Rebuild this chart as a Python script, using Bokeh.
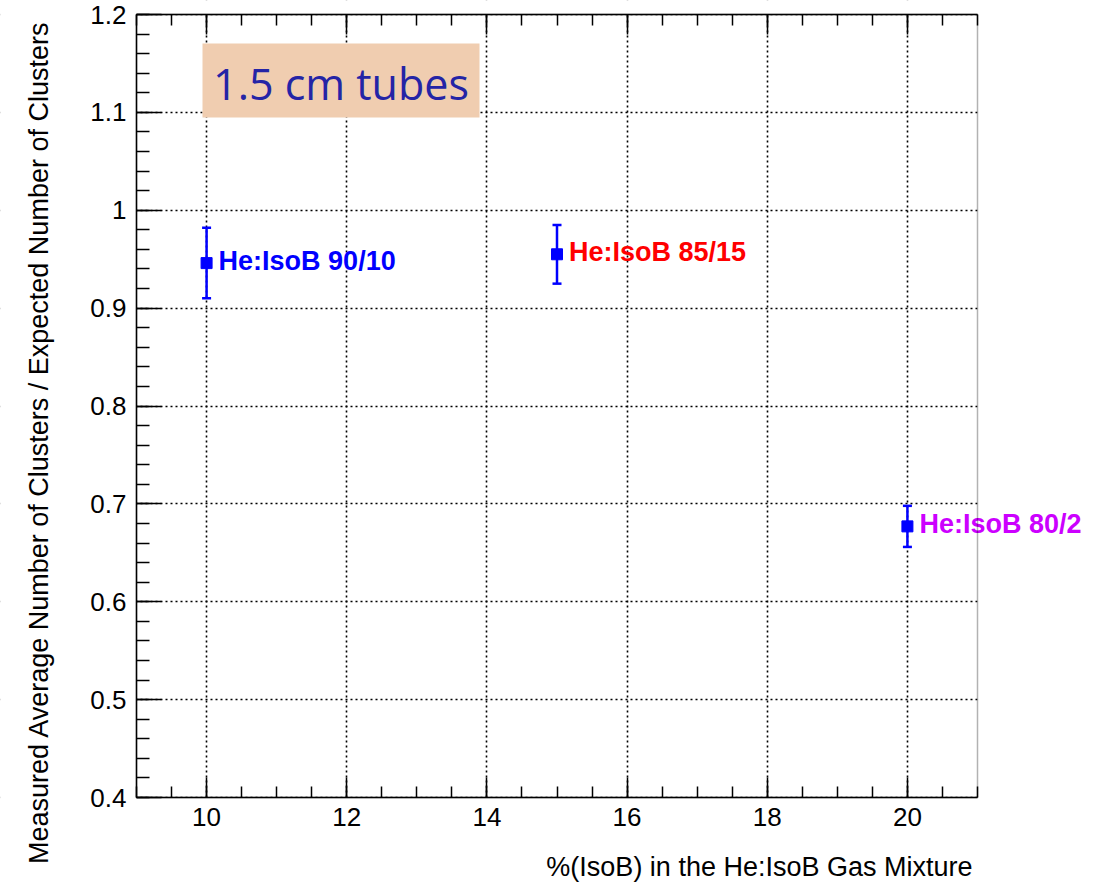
import numpy as np
from bokeh.plotting import figure
from bokeh.models import (ColumnDataSource, Range1d, LinearAxis, SingleIntervalTicker,
                          CustomJSTickFormatter, Whisker, TeeHead, Label, BoxAnnotation)
from bokeh.core.properties import value
from bokeh.embed import file_html
from bokeh.resources import INLINE

# ---- data ----
isob_pct = [10, 15, 20]
ratio = [0.946, 0.955, 0.677]
ratio_err = [0.036, 0.030, 0.021]
point_labels = ["He:IsoB 90/10", "He:IsoB 85/15", "He:IsoB 80/2"]
label_colors = ["#0000ff", "#ff0000", "#cc00ff"]

x_title = "%(IsoB) in the He:IsoB Gas Mixture"
y_title = "Measured Average Number of Clusters / Expected Number of Clusters"
box_title = "1.5 cm tubes"

X_MIN, X_MAX = 9, 21
Y_MIN, Y_MAX = 0.4, 1.2
EPS = 1e-6

src = ColumnDataSource(dict(
    x=isob_pct, y=ratio,
    upper=[v + e for v, e in zip(ratio, ratio_err)],
    lower=[v - e for v, e in zip(ratio, ratio_err)],
    label=point_labels, color=label_colors,
))

# ---- layout: the frame fills the canvas; the visible box is drawn inside it ----
W, H = 1111, 882
BOX_L, BOX_R, BOX_T, BOX_B = 136, 977, 14, 797      # pixel edges of the visible plot box
px_x = (BOX_R - BOX_L) / (X_MAX - X_MIN)
px_y = (BOX_B - BOX_T) / (Y_MAX - Y_MIN)
x0 = X_MIN - BOX_L / px_x
x1 = X_MAX + (W - BOX_R) / px_x
y0 = Y_MIN - (H - BOX_B) / px_y
y1 = Y_MAX + BOX_T / px_y

def sx(px):
    return X_MIN + (px - BOX_L) / px_x

def sy(py):
    return Y_MAX - (py - BOX_T) / px_y

p = figure(width=W, height=H, output_backend="svg", toolbar_location=None,
           x_range=Range1d(x0, x1), y_range=Range1d(y0, y1),
           min_border_left=0, min_border_right=0, min_border_top=0, min_border_bottom=0,
           background_fill_color="white", border_fill_color="white")
p.outline_line_color = None

FONT = "Liberation Sans"

# axes at fixed positions inside the frame
p.xaxis.ticker = SingleIntervalTicker(interval=2, num_minor_ticks=4)
p.yaxis.ticker = SingleIntervalTicker(interval=0.1, num_minor_ticks=5)
p.yaxis.formatter = CustomJSTickFormatter(code="return tick.toFixed(1).replace(/\\.0$/, '');")
p.xaxis.bounds = (X_MIN, X_MAX)
p.yaxis.bounds = (Y_MIN - EPS, Y_MAX + EPS)
p.xaxis.fixed_location = Y_MIN
p.yaxis.fixed_location = X_MIN
for ax in (p.xaxis[0], p.yaxis[0]):
    ax.axis_line_color = "black"
    ax.axis_line_width = 1.5
    ax.major_tick_line_color = "black"
    ax.minor_tick_line_color = "black"
    ax.major_tick_line_width = 1.5
    ax.minor_tick_line_width = 1.5
    ax.major_tick_out = 0
    ax.minor_tick_out = 0
    ax.major_label_text_font = FONT
    ax.major_label_text_font_size = "26px"
    ax.major_label_text_color = "black"
p.xaxis.major_tick_in = 20
p.xaxis.minor_tick_in = 11
p.yaxis.major_tick_in = 25
p.yaxis.minor_tick_in = 13
p.xaxis.major_label_standoff = 10
p.yaxis.major_label_standoff = 10

top = LinearAxis(ticker=SingleIntervalTicker(interval=2, num_minor_ticks=4),
                 formatter=CustomJSTickFormatter(code="return '';"),
                 bounds=(X_MIN, X_MAX), fixed_location=Y_MAX,
                 axis_line_color="black", axis_line_width=1.5,
                 major_tick_in=20, minor_tick_in=11, major_tick_out=0, minor_tick_out=0,
                 major_tick_line_width=1.5, minor_tick_line_width=1.5,
                 major_label_standoff=0)
p.add_layout(top, "above")

# grid
for g in (p.xgrid[0], p.ygrid[0]):
    g.grid_line_color = "black"
    g.grid_line_width = 1.6
    g.grid_line_dash = "2 3"

# blank the area outside the visible box
for kw in (dict(left=x0 - 1, right=X_MIN, bottom=y0 - 1, top=y1 + 1),
           dict(left=X_MAX, right=x1 + 1, bottom=y0 - 1, top=y1 + 1),
           dict(left=x0 - 1, right=x1 + 1, bottom=y0 - 1, top=Y_MIN),
           dict(left=x0 - 1, right=x1 + 1, bottom=Y_MAX, top=y1 + 1)):
    p.add_layout(BoxAnnotation(fill_color="white", fill_alpha=1.0, line_color=None,
                               level="underlay", **kw))
# box outline
p.add_layout(BoxAnnotation(left=X_MIN, right=X_MAX, bottom=Y_MIN, top=Y_MAX,
                           fill_alpha=0, line_color="black", line_width=1.5, level="overlay"))

# title box
p.add_layout(BoxAnnotation(left=sx(202), right=sx(479), bottom=sy(117), top=sy(43),
                           fill_color="#f0cdb0", fill_alpha=1.0, line_color=None, level="underlay"))
p.add_layout(Label(x=sx(340.5), y=sy(83), text=box_title, text_align="center",
                   text_baseline="middle", text_font="Open Sans", text_font_size="43px",
                   text_color="#2424a6"))

# error bars and markers
p.add_layout(Whisker(source=src, base="x", upper="upper", lower="lower",
                     line_color="#0000ff", line_width=2.5,
                     upper_head=TeeHead(size=9, line_color="#0000ff", line_width=2.5),
                     lower_head=TeeHead(size=9, line_color="#0000ff", line_width=2.5)))
p.scatter("x", "y", source=src, marker="square", size=11,
          fill_color="#0000ff", line_color="#0000ff")

# point labels
p.text("x", "y", text="label", source=src, text_color="color",
       text_font=value(FONT), text_font_style="bold", text_font_size="27px",
       text_align="left", text_baseline="alphabetic", x_offset=12, y_offset=-2)

# axis titles
p.add_layout(Label(x=sx(38), y=sy(442),
                   text=y_title, angle=np.pi / 2, text_align="center", text_baseline="middle",
                   text_font=FONT, text_font_size="27px", text_color="black"))
p.add_layout(Label(x=sx(972), y=sy(866),
                   text=x_title, text_align="right", text_baseline="middle",
                   text_font=FONT, text_font_size="27px", text_color="black"))

open("out.html", "w").write(file_html(p, INLINE))
